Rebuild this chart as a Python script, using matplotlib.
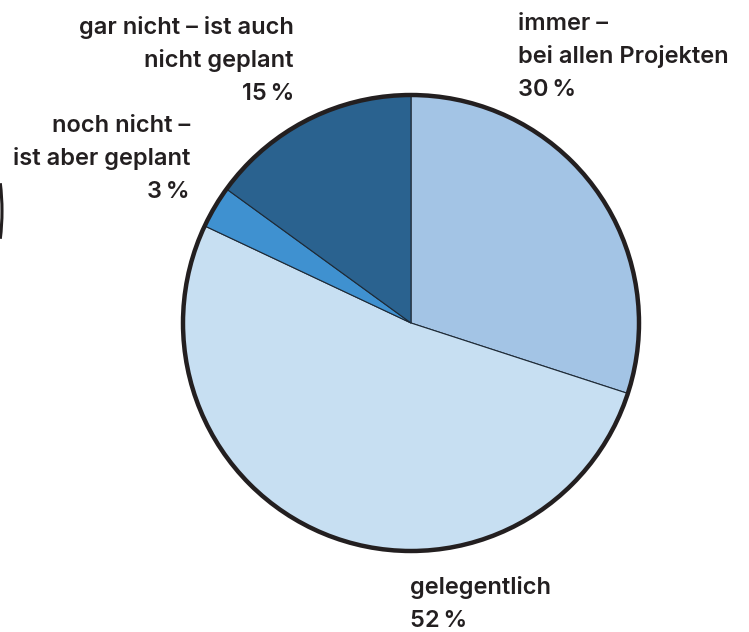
import matplotlib
matplotlib.use('Agg')
import matplotlib.pyplot as plt
from matplotlib.patches import Circle, Arc

# answers, clockwise from 12 o'clock
labels = ['immer –\nbei allen Projekten\n30\u202f%',
          'gelegentlich\n52\u202f%',
          'noch nicht –\nist aber geplant\n3\u202f%',
          'gar nicht – ist auch\nnicht geplant\n15\u202f%']
shares = [30, 52, 3, 15]
colors = ['#a3c4e5', '#c7dff2', '#3f91d0', '#2a628f']

W, H = 749, 632
fig = plt.figure(figsize=(W / 100, H / 100), dpi=100)
ax = fig.add_axes([0, 0, 1, 1])

cx, cy, r = 411, H - 323, 228
ax.pie(shares, colors=colors, startangle=90, counterclock=False,
       center=(cx, cy), radius=r, frame=True,
       wedgeprops=dict(edgecolor='#1e2a36', linewidth=0.8))
ax.set_xlim(0, W)
ax.set_ylim(0, H)
ax.set_aspect('equal')
ax.axis('off')
ax.add_patch(Circle((cx, cy), r, fill=False, edgecolor='#231f20', linewidth=3.2, zorder=5))

# bit of the neighbouring chart peeking in at the left edge
ax.add_patch(Arc((-226, H - 211), 456, 456, theta1=-7, theta2=7,
                 edgecolor='#231f20', linewidth=2.2))

font = dict(family=['Inter', 'DejaVu Sans'], fontsize=17, fontweight='semibold',
            color='#231f20')
step = 33


def put(lines, x, y0, ha):
    for k, s in enumerate(lines.split('\n')):
        ax.text(x, H - (y0 + k * step), s, ha=ha, va='baseline', **font)


put(labels[0], 518, 30, 'left')
put(labels[1], 410, 594, 'left')
put(labels[2], 190, 132, 'right')
put(labels[3], 294, 34, 'right')

fig.savefig('out.png', dpi=100)
